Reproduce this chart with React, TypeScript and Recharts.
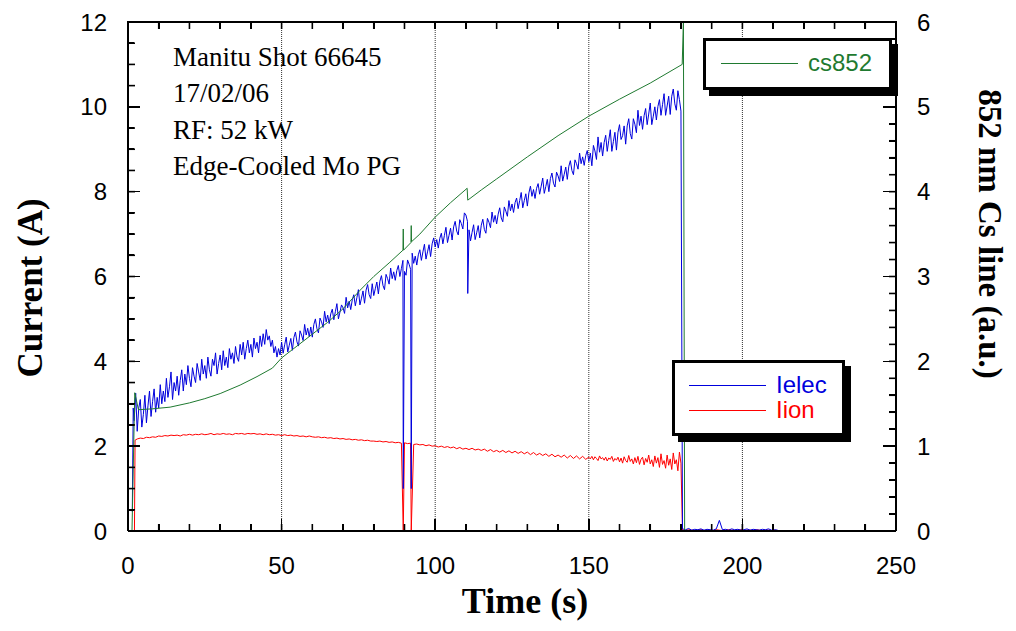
import React from 'react';
import { ComposedChart, Line, XAxis, YAxis, ReferenceLine, Legend } from 'recharts';

// ---------- data ----------
const timeTicks = [0, 10, 20, 30, 40, 50, 60, 70, 80, 90, 100, 110, 120, 130, 140, 150, 160, 170, 180, 190, 200, 210, 220, 230, 240, 250];
const timeLabels = [0, 50, 100, 150, 200, 250];
const gridTimes = [50, 100, 150, 200];
const currentTicks = [0, 0.5, 1, 1.5, 2, 2.5, 3, 3.5, 4, 4.5, 5, 5.5, 6, 6.5, 7, 7.5, 8, 8.5, 9, 9.5, 10, 10.5, 11, 11.5, 12];
const currentLabels = [0, 2, 4, 6, 8, 10, 12];
const csTicks = [0, 0.2, 0.4, 0.6, 0.8, 1, 1.2, 1.4, 1.6, 1.8, 2, 2.2, 2.4, 2.6, 2.8, 3, 3.2, 3.4, 3.6, 3.8, 4, 4.2, 4.4, 4.6, 4.8, 5, 5.2, 5.4, 5.6, 5.8, 6];
const csLabels = [0, 1, 2, 3, 4, 5, 6];

const annotationLines = ['Manitu Shot 66645', '17/02/06', 'RF: 52 kW', 'Edge-Cooled Mo PG'];

// Ielec (A): main record every 0.5 s from t = 2 s to 180 s
const ielecStart = 2;
const ielecStep = 0.5;
const ielecValues = [
  // 2.0 - 49.5 s
  2.6, 3.25, 2.35, 2.9, 3.1, 2.45, 2.75, 3.2, 2.55, 2.95,
  3.3, 2.7, 3.05, 3.35, 2.8, 3.15, 2.9, 3.45, 3.0, 3.3,
  3.05, 3.6, 3.15, 3.4, 3.75, 3.1, 3.5, 3.3, 3.65, 3.2,
  3.55, 3.8, 3.3, 3.7, 3.45, 3.9, 3.6, 3.4, 3.85, 3.65,
  3.5, 3.95, 3.75, 3.55, 4.05, 3.7, 3.9, 3.6, 4.1, 3.8,
  3.65, 4.05, 3.9, 4.2, 3.7, 3.95, 4.15, 3.8, 4.25, 3.9,
  4.1, 3.85, 4.3, 4.05, 4.2, 3.95, 4.35, 4.1, 4.0, 4.4,
  4.15, 4.45, 4.05, 4.3, 4.5, 4.2, 4.4, 4.1, 4.55, 4.3,
  4.45, 4.2, 4.6, 4.35, 4.65, 4.4, 4.75, 4.5, 4.6, 4.35,
  4.5, 4.2, 4.35, 4.1, 4.3, 4.15,
  // 50.0 - 89.5 s
  4.45, 4.19, 4.39, 4.57, 4.22, 4.38, 4.54, 4.26, 4.56, 4.69,
  4.46, 4.36, 4.72, 4.62, 4.49, 4.87, 4.62, 4.78, 4.58, 4.81,
  4.57, 4.87, 5.0, 4.77, 4.67, 5.02, 4.93, 4.8, 5.18, 4.93,
  5.09, 4.89, 5.12, 5.23, 4.98, 5.17, 5.36, 5.0, 5.16, 5.33,
  5.26, 5.13, 5.51, 5.26, 5.42, 5.22, 5.45, 5.57, 5.31, 5.5,
  5.69, 5.33, 5.49, 5.66, 5.37, 5.68, 5.81, 5.57, 5.48, 5.83,
  5.55, 5.71, 5.87, 5.59, 5.89, 6.02, 5.79, 5.69, 6.05, 5.95,
  5.82, 6.2, 5.95, 6.11, 5.91, 6.14, 6.26, 6.0, 6.19, 6.38,
  // 90.0 - 110.5 s
  6.12, 6.03, 6.39, 6.29, 6.17, 6.55, 6.31, 6.48, 6.27, 6.51,
  6.63, 6.38, 6.58, 6.76, 6.41, 6.58, 6.75, 6.47, 6.77, 6.91,
  6.7, 6.87, 6.67, 6.9, 7.02, 6.77, 6.97, 7.16, 6.8, 6.97,
  7.14, 6.86, 7.17, 7.3, 7.07, 6.98, 7.34, 7.25, 7.12, 7.5,
  7.45, 7.3,
  // 111.0 - 180.0 s
  7.1, 6.84, 7.04, 7.22, 6.87, 7.03, 7.2, 6.91, 7.21, 7.35,
  7.11, 7.02, 7.37, 7.28, 7.15, 7.52, 7.28, 7.44, 7.24, 7.47,
  7.62, 7.38, 7.29, 7.64, 7.54, 7.42, 7.79, 7.55, 7.71, 7.51,
  7.74, 7.85, 7.6, 7.79, 7.98, 7.62, 7.79, 7.95, 7.66, 7.97,
  8.13, 7.89, 8.05, 7.84, 8.08, 8.19, 7.94, 8.13, 8.32, 7.96,
  8.12, 8.29, 8.0, 8.31, 8.44, 8.2, 8.11, 8.46, 8.37, 8.24,
  8.61, 8.25, 8.41, 8.58, 8.29, 8.6, 8.73, 8.5, 8.4, 8.75,
  8.66, 8.53, 8.91, 8.66, 8.82, 8.62, 8.85, 8.97, 8.71, 8.91,
  8.61, 9.09, 8.96, 8.76, 9.29, 8.93, 9.16, 8.84, 9.16, 9.33,
  8.95, 9.21, 9.46, 8.95, 9.18, 9.4, 8.98, 9.4, 9.58, 9.23,
  9.32, 9.55, 9.12, 9.55, 9.72, 9.37, 9.24, 9.72, 9.59, 9.39,
  9.92, 9.56, 9.78, 9.47, 9.79, 9.96, 9.58, 9.83, 10.09, 9.58,
  9.78, 10.0, 9.69, 10.01, 10.17, 9.8, 10.05, 10.31, 9.8, 10.02,
  10.25, 9.82, 10.25, 10.42, 10.07, 9.92, 10.38, 10.17, 9.9,
];
// Ielec after the plasma stops, every 1 s from t = 180.5 s
const ielecTailStart = 180.5;
const ielecTailStep = 1;
const ielecTail = [
  0.05, 0.03, 0.06, 0.02, 0.04, 0.03, 0.05, 0.02, 0.04, 0.03,
  0.02, 0.05, 0.25, 0.03, 0.04, 0.02, 0.05, 0.03, 0.04, 0.02,
  0.03, 0.05, 0.02, 0.04, 0.03, 0.02, 0.04, 0.03, 0.05, 0.02,
  0.03, 0.02,
];
// extra samples (time s, current A): turn-on and short drop-outs
const ielecEvents: [number, number][] = [[1.4, 0.45], [1.7, 2.9], [89.6, 1.0], [92.2, 1.0], [110.6, 5.6]];

// Iion (A): every 1 s from t = 3 s to 150 s
const iionStart = 3;
const iionStep = 1;
const iionValues = [
  2.17, 2.19, 2.18, 2.21, 2.2, 2.22, 2.21, 2.24,
  2.23, 2.25, 2.24, 2.26, 2.25, 2.26, 2.24, 2.27, 2.26, 2.28,
  2.26, 2.28, 2.27, 2.29, 2.27, 2.28, 2.3, 2.27, 2.29, 2.28,
  2.3, 2.28, 2.29, 2.27, 2.3, 2.29, 2.3, 2.28, 2.3, 2.29,
  2.3, 2.28, 2.29, 2.27, 2.29, 2.27, 2.28, 2.26, 2.27, 2.25,
  2.27, 2.25, 2.26, 2.24, 2.25, 2.23, 2.24, 2.22, 2.24, 2.22,
  2.21, 2.22, 2.2, 2.21, 2.19, 2.2, 2.18, 2.19, 2.17, 2.18,
  2.16, 2.17, 2.15, 2.16, 2.14, 2.15, 2.13, 2.14, 2.12, 2.12,
  2.11, 2.12, 2.1, 2.11, 2.09, 2.1, 2.08, 2.09, 2.07, 2.08,
  2.06, 2.07, 2.04, 2.05, 2.03, 2.04, 2.01, 2.03, 2.0, 2.01,
  1.98, 2.0, 1.97, 1.99, 1.96, 1.98, 1.94, 1.97, 1.93, 1.95,
  1.92, 1.95, 1.91, 1.93, 1.9, 1.93, 1.88, 1.92, 1.87, 1.9,
  1.86, 1.9, 1.85, 1.89, 1.84, 1.88, 1.83, 1.87, 1.82, 1.86,
  1.8, 1.85, 1.79, 1.83, 1.78, 1.82, 1.76, 1.81, 1.75, 1.79,
  1.74, 1.79, 1.72, 1.78, 1.71, 1.77, 1.7, 1.76, 1.69, 1.74,
];
// Iion noisier end of the record, every 0.5 s from t = 150.5 s to 180 s
const iionEndStart = 150.5;
const iionEndStep = 0.5;
const iionEnd = [
  1.7, 1.76, 1.68, 1.75, 1.71, 1.66, 1.77, 1.7, 1.73, 1.67,
  1.74, 1.65, 1.72, 1.69, 1.76, 1.64, 1.71, 1.67, 1.74, 1.63,
  1.72, 1.6, 1.75, 1.66, 1.62, 1.78, 1.64, 1.7, 1.58, 1.73,
  1.61, 1.76, 1.57, 1.69, 1.74, 1.56, 1.71, 1.62, 1.79, 1.58,
  1.68, 1.52, 1.77, 1.6, 1.73, 1.5, 1.82, 1.57, 1.66, 1.48,
  1.79, 1.55, 1.7, 1.45, 1.84, 1.58, 1.68, 1.42, 1.86, 1.6,
];
// Iion after the plasma stops, every 1 s from t = 180.5 s
const iionTailStart = 180.5;
const iionTailStep = 1;
const iionTail = [
  0.02, 0.01, 0.03, 0.02, 0.01, 0.02, 0.03, 0.01, 0.02, 0.02,
  0.01, 0.03, 0.02, 0.01, 0.02, 0.03, 0.02, 0.01, 0.02, 0.03,
  0.01, 0.02, 0.02, 0.01, 0.03, 0.02, 0.01, 0.02, 0.02, 0.01,
  0.02, 0.01,
];
const iionEvents: [number, number][] = [[2.1, 0], [2.3, 2.14], [89.6, 0], [92.2, 0]];

// cs852 (a.u.), smooth signal
const csTimes = [1.3, 2.2, 3.4, 8, 13.7, 20, 25, 30, 36.5, 42, 47, 50, 55, 60, 65, 70, 75.6, 80, 85, 89.5, 89.6, 89.7, 92.1, 92.2, 92.3, 95, 100, 105, 110.4, 110.6, 115, 120, 130, 140, 150, 160, 170, 180.4, 180.8, 181.2];
const csValues = [0, 1.63, 1.43, 1.44, 1.46, 1.51, 1.56, 1.62, 1.72, 1.82, 1.92, 2.04, 2.18, 2.32, 2.46, 2.62, 2.84, 3.0, 3.16, 3.31, 3.56, 3.31, 3.4, 3.6, 3.41, 3.5, 3.7, 3.87, 4.04, 3.9, 4.02, 4.15, 4.41, 4.66, 4.89, 5.09, 5.28, 5.5, 6.0, 0];

const seriesNames = { ielec: 'Ielec', iion: 'Iion', cs: 'cs852' };
const colors = { ielec: '#0000dd', iion: '#ff0000', cs: '#1f7a30' };

// ---------- helpers ----------
type Pt = { t: number; v: number };
function sampled(start: number, step: number, values: number[]): Pt[] {
  return values.map((v, i) => ({ t: start + i * step, v }));
}
function merge(...parts: Pt[][]): Pt[] {
  const rows = ([] as Pt[]).concat(...parts);
  rows.sort((a, b) => a.t - b.t);
  return rows;
}
const toPts = (ev: [number, number][]): Pt[] => ev.map(([t, v]) => ({ t, v }));

const ielecData = merge(sampled(ielecStart, ielecStep, ielecValues), sampled(ielecTailStart, ielecTailStep, ielecTail), toPts(ielecEvents));
const iionData = merge(sampled(iionStart, iionStep, iionValues), sampled(iionEndStart, iionEndStep, iionEnd), sampled(iionTailStart, iionTailStep, iionTail), toPts(iionEvents));
const csData: Pt[] = csTimes.map((t, i) => ({ t, v: csValues[i] }));

const SANS = '"Liberation Sans", Arial, Helvetica, sans-serif';
const SERIF = '"Liberation Serif", "Times New Roman", Times, serif';
const W = 1016;
const H = 631;
const TICK_FONT = 24;
const TICK_LEN = 7; // inward tick marks
const TICK_W = 1.6;
const tickLineStyle = { stroke: '#000', strokeWidth: TICK_W };
const axisLineStyle = { stroke: '#000', strokeWidth: 2 };

// plot box implied by the margins / axis sizes below
const PL = 128, PR = 896, PT = 22, PB = 531;
const px = (t: number) => PL + (t / 250) * (PR - PL);
const pyL = (v: number) => PB - (v / 12) * (PB - PT);
const pyR = (v: number) => PB - (v / 6) * (PB - PT);
const isMult = (v: number, m: number) => Math.abs(v / m - Math.round(v / m)) < 1e-6;

const BottomTick = (props: any) => {
  const { x, y, payload } = props;
  const v = payload.value;
  if (!timeLabels.includes(v)) return <g />;
  return <text x={x} y={y + TICK_LEN + 43} textAnchor="middle" fontFamily={SANS} fontSize={TICK_FONT} fill="#000">{v}</text>;
};
const LeftTick = (props: any) => {
  const { x, y, payload } = props;
  const v = payload.value;
  if (!currentLabels.includes(v)) return <g />;
  return <text x={x - TICK_LEN - 21} y={y} dy="0.36em" textAnchor="end" fontFamily={SANS} fontSize={TICK_FONT} fill="#000">{v}</text>;
};
const RightTick = (props: any) => {
  const { x, y, payload } = props;
  const v = payload.value;
  if (!csLabels.some((c) => Math.abs(c - v) < 1e-6)) return <g />;
  return <text x={x + TICK_LEN + 21} y={y} dy="0.36em" textAnchor="start" fontFamily={SANS} fontSize={TICK_FONT} fill="#000">{Math.round(v)}</text>;
};
const EmptyTick = () => <g />;

const LeftTitleAndNotes = () => (
  <g>
    <text x={30} y={288} transform="rotate(-90 30 288)" textAnchor="middle" dominantBaseline="central"
      fontFamily={SERIF} fontWeight="bold" fontSize={35} fill="#000">Current (A)</text>
    {annotationLines.map((s, i) => (
      <text key={i} x={173} y={66 + i * 36.3} fontFamily={SERIF} fontSize={27} fill="#000">{s}</text>
    ))}
  </g>
);
const RightTitle = () => (
  <text x={990} y={234} transform="rotate(90 990 234)" textAnchor="middle" dominantBaseline="central"
    fontFamily={SERIF} fontWeight="bold" fontSize={33} fill="#000">852 nm Cs line (a.u.)</text>
);
const BottomTitle = () => (
  <text x={525} y={613} textAnchor="middle" fontFamily={SERIF} fontWeight="bold" fontSize={36} fill="#000">Time (s)</text>
);

const boxStyle = (left: number, top: number, w: number, h: number): React.CSSProperties => ({
  position: 'absolute', left, top, width: w, height: h, boxSizing: 'border-box',
  border: '3px solid #000', background: '#fff', boxShadow: '6px 6px 0 #000',
});
const mark = (left: number, top: number, w: number, h: number): React.CSSProperties => ({
  position: 'absolute', left, top, width: w, height: h, background: '#000',
});

const LegendRow = ({ left, top, color, label }: { left: number; top: number; color: string; label: string }) => (
  <div style={{ position: 'absolute', left, top: top - 15, height: 30, display: 'flex', alignItems: 'center' }}>
    <div style={{ width: 77, height: 1, background: color }} />
    <span style={{ marginLeft: 10, color, fontFamily: SANS, fontSize: 24, lineHeight: '30px' }}>{label}</span>
  </div>
);

// frame top + inward tick marks (HTML layer), drawn beneath the legend boxes
const FrameMarks = () => (
  <>
    <div style={mark(PL - 1, PT - 1, PR - PL + 2, 2)} />
    {timeTicks.map((t) => {
      const len = isMult(t, 50) ? 12 : TICK_LEN;
      return <div key={`b${t}`} style={mark(px(t) - TICK_W / 2, PB - len, TICK_W, len)} />;
    })}
    {timeTicks.map((t) => <div key={`t${t}`} style={mark(px(t) - TICK_W / 2, PT, TICK_W, TICK_LEN)} />)}
    {currentTicks.map((v) => {
      const len = isMult(v, 2) ? 12 : 6;
      return <div key={`l${v}`} style={mark(PL, pyL(v) - TICK_W / 2, len, TICK_W)} />;
    })}
    {csTicks.map((v) => {
      const len = isMult(v, 1) ? 13 : TICK_LEN;
      return <div key={`r${v}`} style={mark(PR - len, pyR(v) - TICK_W / 2, len, TICK_W)} />;
    })}
  </>
);

const LegendContent = (props: any) => {
  const payload: any[] = props.payload || [];
  const find = (key: keyof typeof seriesNames) => {
    const p = payload.find((q) => q.value === seriesNames[key]);
    return { value: seriesNames[key], color: (p && p.color) || colors[key] };
  };
  const cs = find('cs');
  const ie = find('ielec');
  const ii = find('iion');
  return (
    <div style={{ position: 'relative', width: W, height: H, pointerEvents: 'none' }}>
      <FrameMarks />
      <div style={boxStyle(703, 38, 189, 52)} />
      <LegendRow left={721} top={63} color={cs.color} label={cs.value} />
      <div style={boxStyle(672, 360, 173, 76)} />
      <LegendRow left={689} top={385} color={ie.color} label={ie.value} />
      <LegendRow left={689} top={410} color={ii.color} label={ii.value} />
    </div>
  );
};

export default function App() {
  return (
    <div style={{ position: 'absolute', left: 0, top: 0, width: W, height: H, background: '#fff' }}>
      <ComposedChart width={W} height={H} margin={{ top: 21, right: 0, bottom: 0, left: 0 }}>
        <XAxis xAxisId={0} dataKey="t" type="number" domain={[0, 250]} ticks={timeTicks} interval={0}
          height={100} tickSize={-TICK_LEN} tickMargin={0} tickLine={tickLineStyle}
          axisLine={axisLineStyle} tick={(p: any) => <BottomTick {...p} />}
          label={<BottomTitle />} />
        <XAxis xAxisId="top" orientation="top" dataKey="t" type="number" domain={[0, 250]} ticks={timeTicks} interval={0}
          height={1} tickSize={-TICK_LEN} tickMargin={0} tickLine={tickLineStyle}
          axisLine={axisLineStyle} tick={(p: any) => <EmptyTick {...p} />} />
        <YAxis yAxisId="left" type="number" domain={[0, 12]} ticks={currentTicks} interval={0}
          width={128} tickSize={-TICK_LEN} tickMargin={0} tickLine={tickLineStyle}
          axisLine={axisLineStyle} tick={(p: any) => <LeftTick {...p} />}
          label={<LeftTitleAndNotes />} />
        <YAxis yAxisId="right" orientation="right" type="number" domain={[0, 6]} ticks={csTicks} interval={0}
          width={120} tickSize={-TICK_LEN} tickMargin={0} tickLine={tickLineStyle}
          axisLine={axisLineStyle} tick={(p: any) => <RightTick {...p} />}
          label={<RightTitle />} />

        {gridTimes.map((t) => (
          <ReferenceLine key={`g${t}`} x={t} xAxisId={0} yAxisId="left" stroke="#333" strokeWidth={1} strokeDasharray="1 1" />
        ))}

        <Line data={iionData} dataKey="v" name={seriesNames.iion} xAxisId={0} yAxisId="left" type="linear"
          stroke={colors.iion} strokeWidth={1} dot={false} activeDot={false} isAnimationActive={false} />
        <Line data={ielecData} dataKey="v" name={seriesNames.ielec} xAxisId={0} yAxisId="left" type="linear"
          stroke={colors.ielec} strokeWidth={1} dot={false} activeDot={false} isAnimationActive={false} />
        <Line data={csData} dataKey="v" name={seriesNames.cs} xAxisId={0} yAxisId="right" type="linear"
          stroke={colors.cs} strokeWidth={1} dot={false} activeDot={false} isAnimationActive={false} />
        <Line data={csData} dataKey="v" name="cs852-top" xAxisId="top" yAxisId="right" type="linear" legendType="none"
          stroke="none" strokeWidth={0} dot={false} activeDot={false} isAnimationActive={false} />
        <Legend layout="vertical" align="center" verticalAlign="middle" content={(p: any) => <LegendContent {...p} />}
          wrapperStyle={{ position: 'absolute', left: 0, top: 0, width: W, height: H, zIndex: 10, pointerEvents: 'none' }} />
      </ComposedChart>
    </div>
  );
}
